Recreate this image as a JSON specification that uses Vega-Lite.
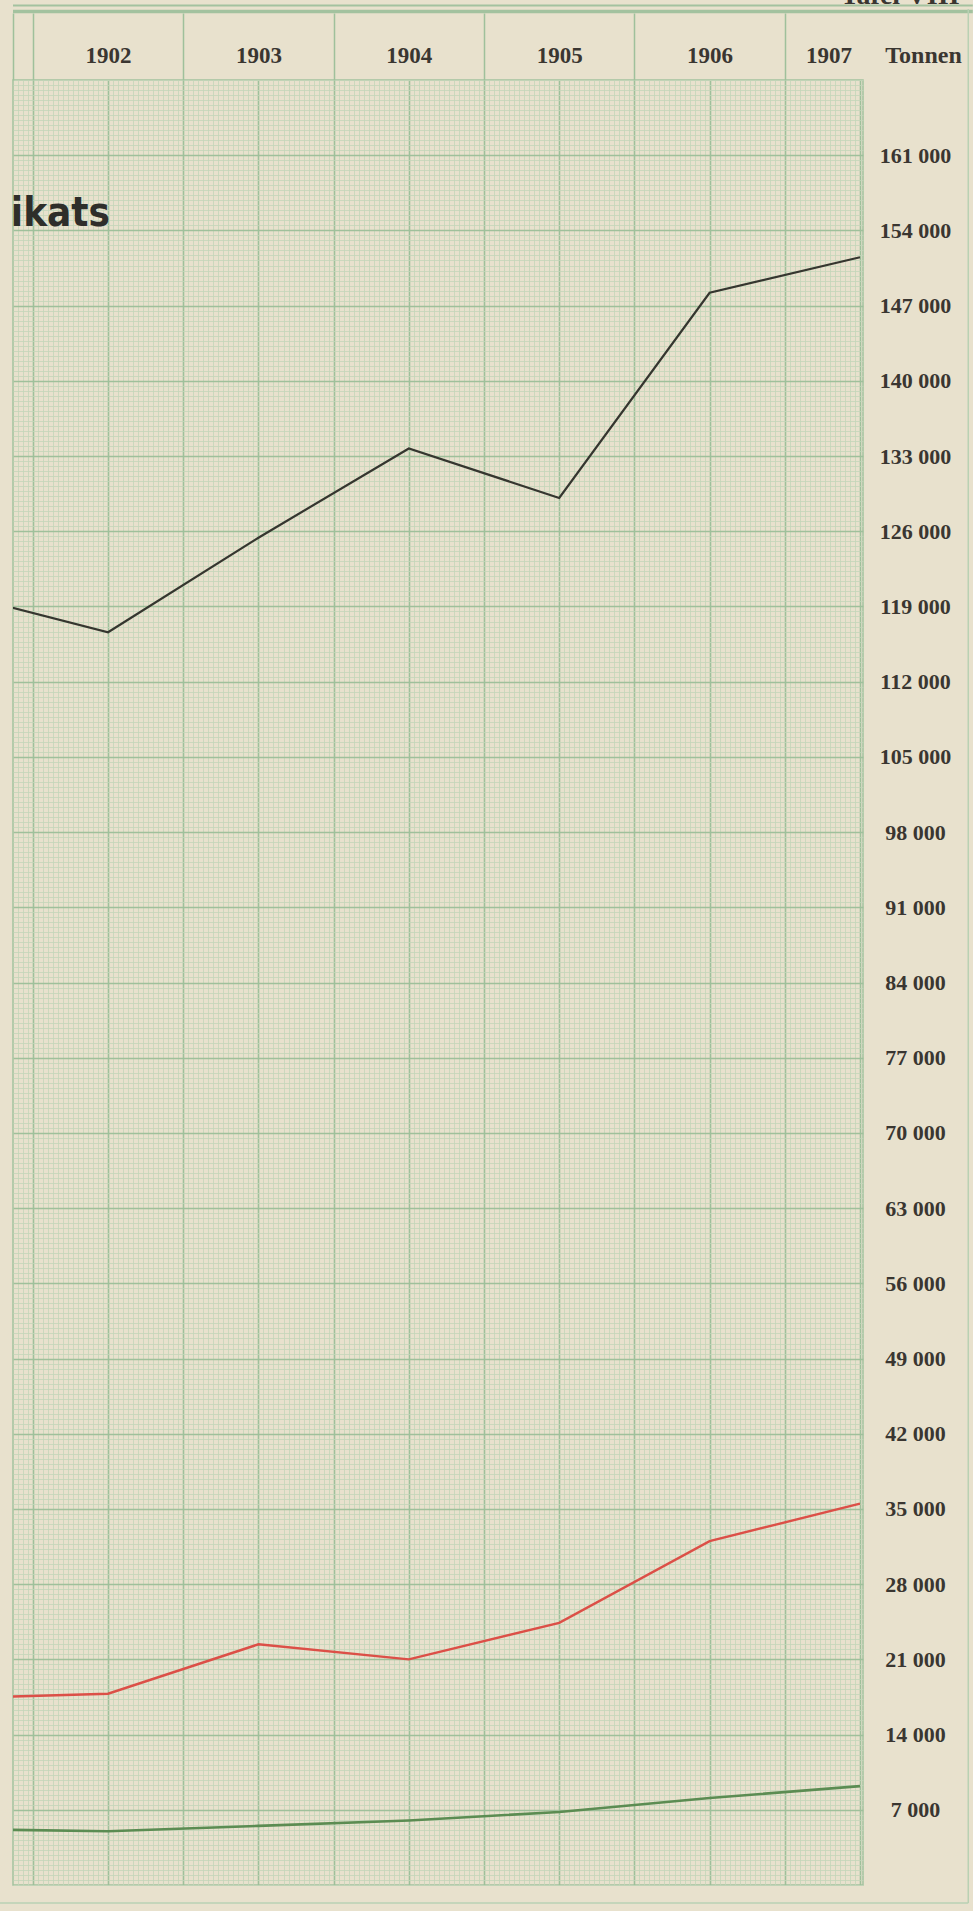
{
  "$schema": "https://vega.github.io/schema/vega-lite/v6.json",
  "width": 850,
  "height": 1805,
  "autosize": {"type": "none"},
  "padding": {"left": 13, "top": 80, "right": 110, "bottom": 26},
  "background": "#e8e1cd",
  "config": {
    "view": {"stroke": "#a3c29f", "strokeWidth": 1.5},
    "axis": {"labelFont": "Liberation Serif", "titleFont": "Liberation Serif", "labelColor": "#3a3631", "titleColor": "#3a3631"}
  },
  "datasets": {
    "tonnage": [
      {"year": 1901, "tonnen": 120200, "series": "schwarz"},
      {"year": 1902, "tonnen": 116600, "series": "schwarz"},
      {"year": 1903, "tonnen": 125400, "series": "schwarz"},
      {"year": 1904, "tonnen": 133700, "series": "schwarz"},
      {"year": 1905, "tonnen": 129100, "series": "schwarz"},
      {"year": 1906, "tonnen": 148200, "series": "schwarz"},
      {"year": 1907, "tonnen": 151500, "series": "schwarz"},
      {"year": 1901, "tonnen": 17400, "series": "rot"},
      {"year": 1902, "tonnen": 17800, "series": "rot"},
      {"year": 1903, "tonnen": 22400, "series": "rot"},
      {"year": 1904, "tonnen": 21000, "series": "rot"},
      {"year": 1905, "tonnen": 24400, "series": "rot"},
      {"year": 1906, "tonnen": 32000, "series": "rot"},
      {"year": 1907, "tonnen": 35500, "series": "rot"},
      {"year": 1901, "tonnen": 5200, "series": "grün"},
      {"year": 1902, "tonnen": 5000, "series": "grün"},
      {"year": 1903, "tonnen": 5500, "series": "grün"},
      {"year": 1904, "tonnen": 6000, "series": "grün"},
      {"year": 1905, "tonnen": 6800, "series": "grün"},
      {"year": 1906, "tonnen": 8100, "series": "grün"},
      {"year": 1907, "tonnen": 9200, "series": "grün"}
    ]
  },
  "layer": [
    {
      "data": {"values": [{}]},
      "mark": {"type": "point", "opacity": 0},
      "encoding": {
        "x": {"datum": 80, "type": "quantitative",
          "scale": {"domain": [-3.96, 165.6], "nice": false, "zero": false},
          "axis": {"orient": "bottom", "tickCount": 170, "grid": true, "gridColor": "#c3d5b9", "gridWidth": 0.8, "labels": false, "ticks": false, "domain": false, "title": null}},
        "y": {"datum": 100, "type": "quantitative",
          "scale": {"domain": [0, 360], "nice": false, "zero": false},
          "axis": {"orient": "left", "tickCount": 360, "grid": true, "gridColor": "#c3d5b9", "gridWidth": 0.8, "labels": false, "ticks": false, "domain": false, "title": null}}
      }
    },
    {
      "data": {"name": "tonnage"},
      "layer": [
        {
          "mark": {"type": "line", "clip": true},
          "encoding": {
            "x": {"field": "year", "type": "quantitative",
              "scale": {"domain": [1901.368, 1907.02], "nice": false, "zero": false},
              "axis": {"orient": "top", "values": [1902, 1903, 1904, 1905, 1906, 1906.79],
                "labelExpr": "datum.value > 1906.5 ? '1907' : format(datum.value, 'd')",
                "grid": false, "ticks": false, "tickSize": 0, "domain": false,
                "labelPadding": 25, "labelBaseline": "middle", "labelAlign": "center",
                "labelFontSize": 23, "labelFontWeight": "bold", "labelOverlap": false, "labelFlush": false,
                "title": "Tafel VIII", "titleX": 827, "titleY": -77, "titleAlign": "left",
                "titleBaseline": "alphabetic", "titleFontSize": 28, "titleFontWeight": "bold", "titleAngle": 0}},
            "y": {"field": "tonnen", "type": "quantitative",
              "scale": {"domain": [0, 168000], "nice": false, "zero": false},
              "axis": {"orient": "right",
                "values": [7000, 14000, 21000, 28000, 35000, 42000, 49000, 56000, 63000, 70000, 77000, 84000, 91000, 98000, 105000, 112000, 119000, 126000, 133000, 140000, 147000, 154000, 161000],
                "labelExpr": "replace(format(datum.value, ','), ',', ' ')",
                "grid": true, "gridColor": "#9fc09b", "gridWidth": 1.6,
                "ticks": false, "tickSize": 0, "domain": false,
                "labelPadding": 52, "labelAlign": "center", "labelBaseline": "middle",
                "labelFontSize": 22, "labelFontWeight": "bold", "labelOverlap": false, "labelFlush": false,
                "title": "Tonnen", "titleAngle": 0, "titleX": 60, "titleY": -25,
                "titleAlign": "center", "titleBaseline": "middle", "titleFontSize": 24, "titleFontWeight": "bold"}},
            "color": {"field": "series", "type": "nominal",
              "scale": {"domain": ["schwarz", "rot", "grün"], "range": ["#35362f", "#dc4f47", "#5b8c52"]},
              "legend": null},
            "strokeWidth": {"field": "series", "type": "nominal",
              "scale": {"domain": ["schwarz", "rot", "grün"], "range": [2.2, 2.6, 2.4]},
              "legend": null}
          }
        },
        {
          "data": {"values": [{}]},
          "mark": {"type": "point", "opacity": 0},
          "encoding": {
            "x": {"datum": 1904, "type": "quantitative",
              "axis": {"orient": "bottom", "values": [1901.5, 1902, 1902.5, 1903, 1903.5, 1904, 1904.5, 1905, 1905.5, 1906, 1906.5, 1907],
                "grid": true, "gridColor": "#9fc09b", "gridWidth": 1.6, "labels": false, "ticks": false, "domain": false, "title": null}}
          }
        },
        {
          "data": {"values": [{}]},
          "mark": {"type": "point", "opacity": 0},
          "encoding": {
            "x": {"datum": 1904, "type": "quantitative",
              "axis": {"orient": "top", "values": [1901.368, 1901.5, 1902.5, 1903.5, 1904.5, 1905.5, 1906.5],
                "ticks": true, "tickSize": 67, "tickColor": "#9fc09b", "tickWidth": 1.5,
                "labels": false, "grid": false, "domain": false, "title": null}}
          }
        },
        {
          "data": {"values": [{}]},
          "mark": {"type": "rule", "color": "#a3c29f", "strokeWidth": 2},
          "encoding": {
            "x": {"datum": 1901.368, "type": "quantitative", "axis": null},
            "x2": {"datum": 1907.75},
            "y": {"datum": 174934, "type": "quantitative", "axis": null}
          }
        },
        {
          "data": {"values": [{}]},
          "mark": {"type": "rule", "color": "#a3c29f", "strokeWidth": 3.5},
          "encoding": {
            "x": {"datum": 1901.368, "type": "quantitative", "axis": null},
            "x2": {"datum": 1907.75},
            "y": {"datum": 174376, "type": "quantitative", "axis": null}
          }
        },
        {
          "data": {"values": [{}]},
          "mark": {"type": "rule", "color": "#b9d1b3", "strokeWidth": 1.5},
          "encoding": {
            "x": {"datum": 1907.72, "type": "quantitative", "axis": null},
            "y": {"datum": -1675, "type": "quantitative", "axis": null},
            "y2": {"datum": 174600}
          }
        },
        {
          "data": {"values": [{}]},
          "mark": {"type": "rule", "color": "#b9d1b3", "strokeWidth": 1.5},
          "encoding": {
            "x": {"datum": 1901.28, "type": "quantitative", "axis": null},
            "x2": {"datum": 1907.72},
            "y": {"datum": -1675, "type": "quantitative", "axis": null}
          }
        },
        {
          "data": {"values": [{}]},
          "mark": {"type": "text", "clip": true, "align": "right", "baseline": "alphabetic",
            "font": "Liberation Sans Narrow, DejaVu Sans Condensed, sans-serif", "fontWeight": "bold", "fontSize": 40, "color": "#2e2e2a"},
          "encoding": {
            "x": {"datum": 1902.013, "type": "quantitative", "axis": null},
            "y": {"datum": 154400, "type": "quantitative", "axis": null},
            "text": {"value": "Syndikats"}
          }
        }
      ],
      "resolve": {"axis": {"x": "independent", "y": "independent"}}
    }
  ],
  "resolve": {"scale": {"x": "independent", "y": "independent"}, "axis": {"x": "independent", "y": "independent"}}
}
